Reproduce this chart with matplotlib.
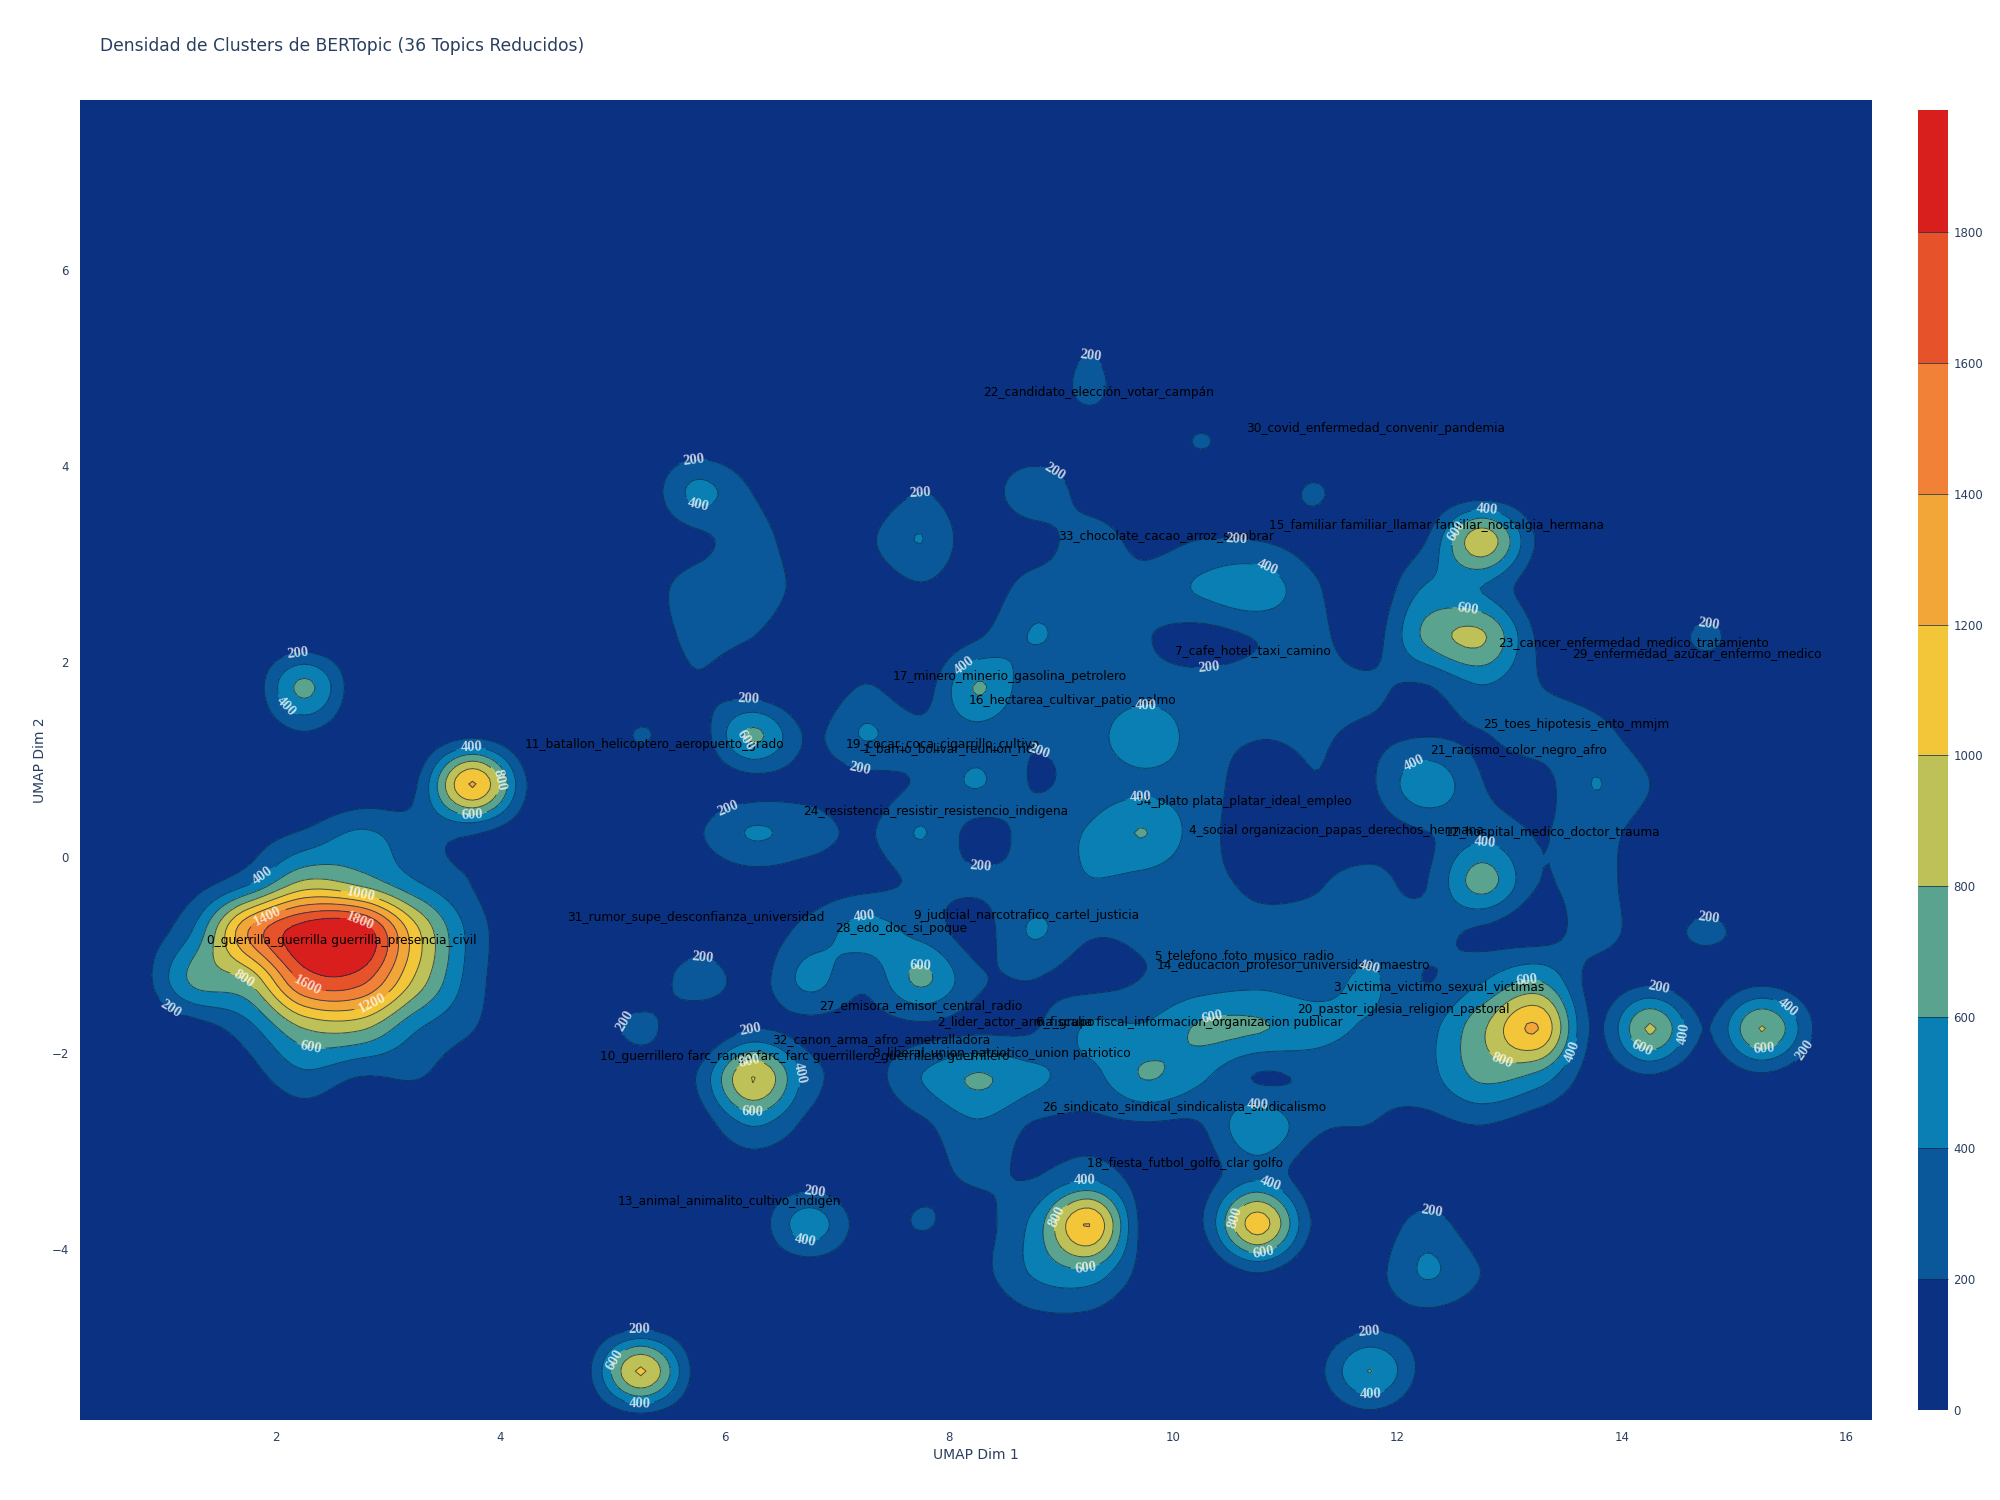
import numpy as np
import matplotlib
matplotlib.use("Agg")
import matplotlib.pyplot as plt

TEXT_COLOR = "#2a3f5f"

# histogram cell centres (0.5 wide)
x_centres = np.arange(0.25, 16.5, 0.5)
y_centres = np.arange(7.75, -6.0, -0.5)

density = [
    [0] * 33,  # 7.75
    [0] * 33,  # 7.25
    [0] * 33,  # 6.75
    [0] * 33,  # 6.25
    [0] * 33,  # 5.75
    [0,0,0,0,0,0,0,0,0,0,0,0,0,0,0,0,0,0,170,0,0,0,0,0,0,0,0,0,0,0,0,0,0],  # 5.25
    [0,0,0,0,0,0,0,0,0,0,0,0,0,0,0,0,0,0,240,0,0,0,0,0,0,0,0,0,0,0,0,0,0],  # 4.75
    [0,0,0,0,0,0,0,0,0,0,0,50,0,0,0,0,0,0,40,0,215,0,0,0,0,0,0,0,0,0,0,0,0],  # 4.25
    [0,0,0,0,0,0,0,0,0,0,30,450,190,0,0,190,40,360,90,0,0,0,220,0,0,50,0,0,0,0,0,0,0],  # 3.75
    [0,0,0,0,0,0,0,0,0,0,20,150,270,75,150,405,50,100,290,130,200,190,110,10,190,930,170,0,0,0,0,0,0],  # 3.25
    [0,0,0,0,0,0,0,0,0,0,100,282,290,132,40,170,60,290,270,270,430,530,240,30,420,395,60,0,0,0,0,0,0],  # 2.75
    [0,0,0,0,0,0,0,0,0,0,70,250,200,50,0,0,180,410,280,210,130,210,260,100,640,830,170,0,0,240,0,0,0],  # 2.25
    [0,0,0,30,650,30,0,0,0,0,0,170,60,0,210,90,615,260,260,280,260,270,270,230,190,390,210,110,0,0,0,0,0],  # 1.75
    [0,0,0,0,170,0,0,150,0,0,215,80,640,170,415,260,330,215,300,560,280,210,220,170,190,190,290,280,80,0,0,0,0],  # 1.25
    [0,0,0,0,0,0,190,1215,180,0,0,30,120,120,120,230,415,190,280,350,280,110,190,170,550,210,120,405,200,0,0,0,0],  # 0.75
    [0,0,0,90,230,430,260,220,50,0,0,170,420,290,170,410,130,280,420,605,280,100,130,110,190,330,190,280,100,0,0,0,0],  # 0.25
    [0,0,100,350,830,720,410,190,20,0,0,40,100,100,130,230,230,260,390,330,240,180,185,250,190,690,205,290,50,0,0,0,0],  # -0.25
    [0,50,400,1400,1920,1950,1050,320,50,0,0,0,60,270,470,330,120,420,230,240,240,230,240,260,260,170,90,290,100,240,80,0,0],  # -0.75
    [0,60,640,830,1660,1680,950,300,30,0,0,320,110,460,250,640,230,200,130,210,290,340,300,430,195,380,590,120,130,40,130,20,0],  # -1.25
    [0,0,90,330,800,830,420,210,20,0,260,0,190,130,120,160,160,185,430,430,630,620,490,370,330,760,1205,170,820,190,810,150,0],  # -1.75
    [0,0,0,110,340,190,210,40,0,0,0,210,1005,300,120,400,620,450,340,610,430,185,230,230,320,640,520,90,170,30,150,0,0],  # -2.25
    [0,0,0,0,70,0,0,0,0,0,0,70,400,140,30,150,360,180,170,170,190,570,240,195,130,190,70,0,0,0,0,0,0],  # -2.75
    [0,0,0,0,0,0,0,0,0,0,0,0,50,50,0,120,230,190,330,100,110,350,60,0,0,0,0,0,0,0,0,0,0],  # -3.25
    [0,0,0,0,0,0,0,0,0,0,0,0,60,510,100,215,130,460,1203,100,180,1100,170,40,280,60,0,0,0,0,0,0,0],  # -3.75
    [0,0,0,0,0,0,0,0,0,0,0,0,0,40,0,0,120,420,530,110,0,195,0,100,420,195,0,0,0,0,0,0,0],  # -4.25
    [0,0,0,0,0,0,0,0,0,0,80,0,0,0,0,0,0,130,130,0,0,0,0,120,120,50,0,0,0,0,0,0,0],  # -4.75
    [0,0,0,0,0,0,0,0,0,120,1020,120,0,0,0,0,0,0,0,0,0,0,110,605,120,0,0,0,0,0,0,0,0],  # -5.25
    [0,0,0,0,0,0,0,0,0,0,100,0,0,0,0,0,0,0,0,0,0,0,0,110,0,0,0,0,0,0,0,0,0],  # -5.75
]

levels = [0, 200, 400, 600, 800, 1000, 1200, 1400, 1600, 1800, 1986]
band_colors = ["#0b3182", "#0a5899", "#0a7fb4", "#5aa38e", "#bec157",
               "#f2c638", "#f2a638", "#f28138", "#e6532a", "#d91e1e"]

topic_names = [
    "0_guerrilla_guerrilla guerrilla_presencia_civil", "1_barrio_bolivar_reunion_rio",
    "2_lider_actor_arma_grupo", "3_victima_victimo_sexual_victimas",
    "4_social organizacion_papas_derechos_hermana", "5_telefono_foto_musico_radio",
    "6_fiscalia fiscal_informacion_organizacion publicar", "7_cafe_hotel_taxi_camino",
    "8_liberal_union_patriotico_union patriotico", "9_judicial_narcotrafico_cartel_justicia",
    "10_guerrillero farc_rango farc_farc guerrillero_guerrillero guerrillero",
    "11_batallon_helicoptero_aeropuerto_grado", "12_hospital_medico_doctor_trauma",
    "13_animal_animalito_cultivo_indigén", "14_educacion_profesor_universidad_maestro",
    "15_familiar familiar_llamar familiar_nostalgia_hermana", "16_hectarea_cultivar_patio_palmo",
    "17_minero_minerio_gasolina_petrolero", "18_fiesta_futbol_golfo_clar golfo",
    "19_cocar_coca_cigarrillo_cultivo", "20_pastor_iglesia_religion_pastoral",
    "21_racismo_color_negro_afro", "22_candidato_elección_votar_campán",
    "23_cancer_enfermedad_medico_tratamiento", "24_resistencia_resistir_resistencio_indigena",
    "25_toes_hipotesis_ento_mmjm", "26_sindicato_sindical_sindicalista_sindicalismo",
    "27_emisora_emisor_central_radio", "28_edo_doc_si_poque",
    "29_enfermedad_azucar_enfermo_medico", "30_covid_enfermedad_convenir_pandemia",
    "31_rumor_supe_desconfianza_universidad", "32_canon_arma_afro_ametralladora",
    "33_chocolate_cacao_arroz_sembrar", "34_plato plata_platar_ideal_empleo",
]
topic_x = [2.58, 7.99, 8.6, 12.37, 11.45, 10.63, 10.14, 10.71, 8.47, 8.69, 6.71, 5.37, 13.38,
           6.04, 11.07, 12.35, 9.1, 8.54, 10.1, 7.94, 12.05, 13.08, 9.33, 14.1, 7.88, 13.59,
           10.1, 7.75, 7.57, 14.67, 11.8, 5.74, 7.39, 9.93, 10.63]
topic_y = [-0.85, 1.11, -1.69, -1.32, 0.27, -1.0, -1.69, 2.11, -2.0, -0.59, -2.04, 1.15, 0.25,
           -3.52, -1.11, 3.39, 1.6, 1.85, -3.13, 1.15, -1.55, 1.09, 4.75, 2.2, 0.47, 1.36,
           -2.55, -1.51, -0.73, 2.08, 4.38, -0.61, -1.86, 3.29, 0.57]

# contour label anchors per level
label_spots = {
    200: [(2.19, 2.10), (6.21, 1.66), (5.72, 4.08), (7.75, 3.68), (8.89, 3.85), (9.26, 5.11),
          (10.56, 3.23), (10.31, 2.06), (14.77, 2.39), (8.77, 1.28), (7.20, 0.89), (6.03, 0.50),
          (8.28, -0.14), (5.80, -0.99), (5.09, -1.66), (1.08, -1.51), (6.24, -1.85), (6.80, -3.44),
          (12.30, -3.61), (11.75, -4.88), (5.24, -4.84), (14.33, -1.34), (14.77, -0.65), (15.58, -1.93)],
    400: [(1.84, -0.13), (2.09, 1.55), (3.74, 1.08), (5.76, 3.57), (8.15, 1.94), (9.76, 1.63),
          (10.93, 3.23), (12.79, 3.51), (12.17, 0.91), (12.78, 0.10), (9.71, 0.59), (7.23, -0.51),
          (11.79, -1.0), (13.52, -1.97), (6.73, -2.18), (9.21, -3.32), (10.84, -3.38), (6.72, -3.90),
          (5.24, -5.55), (11.75, -5.42), (14.56, -1.80), (15.42, -1.60), (10.75, -2.56)],
    600: [(3.75, 0.42), (2.30, -2.01), (6.25, -2.61), (6.06, 1.1), (7.74, -1.08), (9.21, -4.16),
          (10.80, -4.03), (5.05, -5.16), (12.62, 2.53), (12.56, 3.31), (10.35, -1.67), (14.19, -1.92),
          (15.26, -1.90), (13.15, -1.23)],
    800: [(1.66, -1.34), (3.93, 0.78), (6.23, -2.16), (12.97, -1.93), (9.0, -3.69), (10.58, -3.69)],
    1000: [(2.75, -0.37)],
    1200: [(2.84, -1.45)],
    1400: [(1.92, -0.60)],
    1600: [(2.27, -1.32)],
    1800: [(2.73, -0.69)],
}


def refine(values, factor, axis):
    # cubic smoothing between cells, the way the contour lines round off in the chart
    values = np.moveaxis(values, axis, 0)
    padded = np.concatenate([values[:1], values, values[-1:]], axis=0)
    t = np.linspace(0, 1, factor, endpoint=False)[:, None]
    pieces = []
    for i in range(1, padded.shape[0] - 2):
        p0, p1, p2, p3 = padded[i - 1], padded[i], padded[i + 1], padded[i + 2]
        pieces.append(
            0.5 * (2 * p1 + (p2 - p0) * t + (2 * p0 - 5 * p1 + 4 * p2 - p3) * t**2
                   + (3 * p1 - p0 - 3 * p2 + p3) * t**3)
        )
    pieces.append(values[-1:])
    return np.moveaxis(np.concatenate(pieces, axis=0), 0, axis)


def main():
    plt.rcParams["font.family"] = ["DejaVu Sans"]
    fig = plt.figure(figsize=(20, 15), dpi=100)
    ax = fig.add_axes([80 / 2000, 1 - 1420 / 1500, 1792 / 2000, 1320 / 1500])

    z = np.array(density, dtype=float)
    factor = 10
    fine = refine(refine(z, factor, 0), factor, 1)
    fine = np.clip(fine, 0, 1985.5)
    xf = np.linspace(x_centres[0], x_centres[-1], fine.shape[1])
    yf = np.linspace(y_centres[0], y_centres[-1], fine.shape[0])

    cf = ax.contourf(xf, yf, fine, levels=levels, colors=band_colors)

    # one contour set per level, clabel's manual mode needs that
    for level, spots in label_spots.items():
        cs = ax.contour(xf, yf, fine, levels=[level], colors="#0b2a4a", linewidths=0.7, alpha=0.75)
        texts = ax.clabel(cs, manual=spots, inline=True, inline_spacing=1,
                          fmt="%d", fontsize=10.5, colors="white")
        for t in texts:
            t.set_family("Liberation Serif")
            t.set_weight("bold")

    for name, tx, ty in zip(topic_names, topic_x, topic_y):
        ax.text(tx, ty, name, ha="center", va="center", fontsize=8.7, color="black", clip_on=True)

    ax.set_xlim(0.25, 16.23)
    ax.set_ylim(-5.75, 7.74)
    ax.set_xticks(range(2, 17, 2))
    ax.set_yticks(range(-4, 7, 2))
    ax.tick_params(length=0, labelsize=8.5, labelcolor=TEXT_COLOR, pad=8)
    for side in ax.spines.values():
        side.set_visible(False)
    ax.set_xlabel("UMAP Dim 1", fontsize=10, color=TEXT_COLOR, labelpad=3)
    ax.set_ylabel("UMAP Dim 2", fontsize=10, color=TEXT_COLOR, labelpad=3)

    cax = fig.add_axes([1918 / 2000, 1 - 1410 / 1500, 30 / 2000, 1300 / 1500])
    cb = fig.colorbar(cf, cax=cax, drawedges=True, spacing="proportional")
    cb.set_ticks(levels[:-1])
    cb.ax.tick_params(length=0, labelsize=8.5, labelcolor=TEXT_COLOR, pad=4)
    cb.outline.set_visible(False)
    cb.dividers.set_color("#0b2a4a")
    cb.dividers.set_linewidth(0.5)

    fig.text(100 / 2000, 1 - 46 / 1500, "Densidad de Clusters de BERTopic (36 Topics Reducidos)",
             fontsize=12.3, color=TEXT_COLOR, ha="left", va="center")
    fig.savefig("out.png", dpi=100)


if __name__ == "__main__":
    main()
